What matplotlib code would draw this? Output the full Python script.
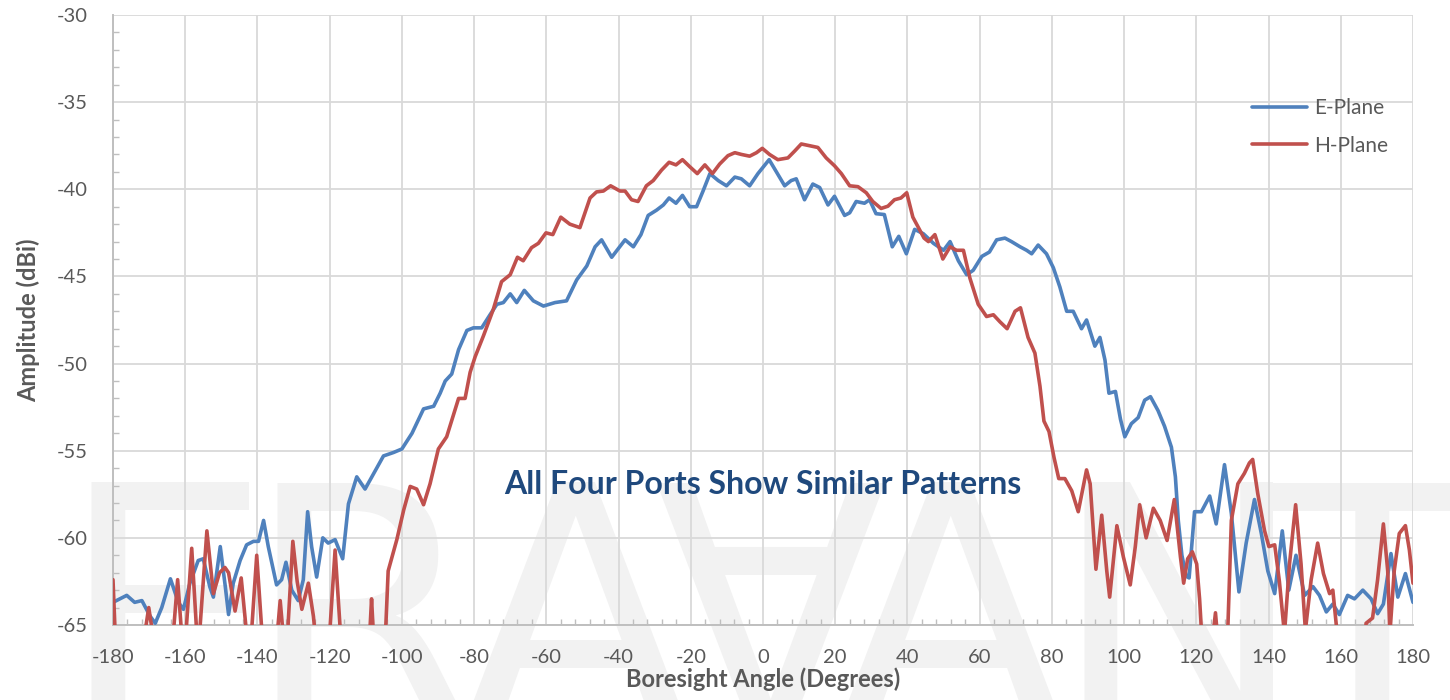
"""Radiation pattern plot: E-plane vs H-plane amplitude against boresight angle."""

import matplotlib

matplotlib.use("Agg")
import matplotlib.pyplot as plt
from matplotlib.ticker import MultipleLocator

plt.rcParams["axes.unicode_minus"] = False

# digitised pattern cuts (angle in degrees, amplitude in dBi)
E_ANGLE = [
    -180, -176.2, -174, -172, -169.7, -168.3, -166.5, -164.1, -161.9, -160.5,
    -158.7, -156.4, -155, -153.2, -152.2, -150.3, -148.9, -148, -146.7, -144.8,
    -143, -141.1, -139.7, -138.3, -137, -134.7, -133.3, -132.1, -130.5, -128.7,
    -127.3, -126.1, -125, -123.6, -121.9, -120.4, -118.5, -116.4, -114.8, -112.5,
    -110.2, -107.8, -105.1, -102.3, -100, -97.2, -94, -91.2, -89.4, -88,
    -86.2, -84.3, -82, -80.2, -77.9, -75.6, -73.7, -71.9, -70, -68.2,
    -66.1, -63.6, -60.8, -57.6, -54.4, -51.6, -48.8, -46.5, -44.7, -41.9,
    -38.2, -35.9, -33.8, -31.8, -29.5, -27.6, -26, -24.1, -22.3, -20.3,
    -18.4, -16.6, -14.7, -12.4, -10.1, -7.8, -6, -3.7, -1.4, 1.7,
    3.7, 6, 7.8, 9.2, 11.5, 13.8, 15.7, 18, 19.8, 22.6,
    24, 25.8, 28.1, 29.5, 31.3, 33.6, 35.8, 37.6, 39.7, 42,
    44.4, 47.2, 50, 51.8, 54.1, 56.4, 58.2, 60.6, 62.7, 64.7,
    67, 68.8, 71.2, 73, 74.4, 76.2, 78.5, 80.4, 82.2, 84.1,
    85.9, 88.2, 89.6, 91.9, 93.3, 94.7, 95.8, 97.6, 99, 100.2,
    102, 103.9, 105.7, 107.3, 109.4, 111.2, 113.1, 114.2, 115, 116,
    117.2, 118, 119.5, 121.4, 123.7, 125.5, 127.8, 129.7, 131.8, 133.8,
    136.1, 138, 139.8, 141.7, 143.8, 145.6, 147.6, 150, 152.3, 154.1,
    156, 157.8, 159.6, 161.9, 163.8, 166.1, 168.4, 170.2, 171.8, 173.9,
    175.8, 177.9, 180,
]
E_AMP = [
    -63.7, -63.3, -63.7, -63.6, -64.5, -64.9, -64.0, -62.35, -63.7, -64.1,
    -62.6, -61.3, -61.2, -62.8, -63.4, -60.5, -62.8, -64.4, -62.6, -61.3,
    -60.4, -60.2, -60.2, -59.0, -60.5, -62.7, -62.4, -61.4, -63.0, -63.6,
    -62.4, -58.5, -60.5, -62.25, -60.0, -60.3, -60.1, -61.2, -58.05, -56.5,
    -57.2, -56.3, -55.3, -55.1, -54.9, -54.0, -52.6, -52.45, -51.7, -51.0,
    -50.6, -49.2, -48.1, -47.95, -47.95, -47.2, -46.6, -46.5, -46.0, -46.5,
    -45.8, -46.4, -46.7, -46.5, -46.4, -45.2, -44.4, -43.3, -42.9, -43.9,
    -42.9, -43.3, -42.6, -41.5, -41.2, -40.9, -40.5, -40.8, -40.35, -41.0,
    -41.0, -40.1, -39.1, -39.5, -39.8, -39.3, -39.4, -39.8, -39.1, -38.3,
    -39.0, -39.8, -39.5, -39.4, -40.6, -39.7, -39.9, -40.9, -40.4, -41.5,
    -41.35, -40.7, -40.8, -40.6, -41.4, -41.45, -43.3, -42.7, -43.7, -42.3,
    -42.55, -43.1, -43.5, -43.0, -44.1, -44.9, -44.65, -43.85, -43.6, -42.9,
    -42.8, -43.0, -43.3, -43.5, -43.7, -43.2, -43.7, -44.5, -45.6, -47.0,
    -47.0, -48.0, -47.5, -49.0, -48.5, -49.8, -51.7, -51.6, -53.2, -54.2,
    -53.45, -53.1, -52.1, -51.9, -52.7, -53.6, -54.8, -56.5, -59.0, -61.0,
    -62.2, -62.3, -58.5, -58.5, -57.6, -59.2, -55.8, -58.6, -63.1, -60.3,
    -57.8, -59.75, -61.9, -63.2, -59.6, -63.0, -61.0, -63.3, -62.8, -63.3,
    -64.25, -63.8, -64.4, -63.3, -63.5, -63.0, -63.5, -64.35, -63.8, -60.9,
    -63.4, -62.05, -63.7,
]

H_ANGLE = [
    -180, -179.3, -178, -172, -171.2, -170.1, -169, -168, -164, -163.3,
    -162.1, -161, -160, -159.8, -158.2, -156.8, -156.2, -154, -152.2, -150.5,
    -149, -148, -146.2, -144.5, -143, -142, -141.6, -140.2, -138.8, -137,
    -134.5, -133.7, -132.9, -131.6, -130.2, -129, -127.7, -125.9, -124.5, -123.8,
    -121, -120, -118.5, -117, -116, -110, -108.9, -108.4, -107.9, -107,
    -105.2, -104.5, -103.8, -101.4, -99.5, -97.7, -95.9, -94, -92.2, -89.9,
    -87.6, -84.3, -82.5, -81.1, -79.7, -77.4, -74.7, -72.4, -70, -68,
    -66.4, -64.1, -62.2, -60.1, -58.2, -56, -53.5, -50.7, -47.9, -46.1,
    -44.2, -42.2, -39.6, -38.2, -36.4, -34.6, -32.3, -30.4, -28.1, -26,
    -24.1, -22.3, -20.3, -18.2, -16.1, -14, -12, -9.7, -7.8, -6,
    -3.7, -1.8, -0.2, 1.8, 4.1, 6.9, 8.8, 10.6, 12.9, 15.2,
    17.5, 19.8, 21.7, 24, 26.3, 28.6, 30.4, 32.7, 34.6, 36.4,
    38.2, 39.8, 41.5, 43.3, 44.6, 45.8, 47.6, 49.8, 51.8, 53.6,
    55.5, 57.3, 59.6, 61.9, 63.8, 65.6, 67.6, 69.8, 71.3, 73.4,
    75.3, 76.7, 77.8, 79.2, 80.6, 81.9, 83.6, 85.5, 87.3, 89.6,
    90.6, 92.2, 93.8, 95.2, 96, 98, 99.8, 101.7, 103.1, 104.3,
    106.1, 108.1, 110, 111.9, 113.9, 115.6, 116.5, 117.6, 118.9, 120.1,
    120.9, 121.6, 122.5, 124.4, 125.3, 126, 127, 128.6, 129.7, 131.5,
    133.3, 134.7, 135.6, 137, 138.9, 140.1, 141.7, 143, 144.4, 145.8,
    147.5, 149, 150.2, 151.8, 153.6, 155.2, 156.9, 157.8, 159, 160,
    166.5, 167, 168.8, 170.2, 171.8, 173, 173.6, 174.8, 176.2, 177.9,
    179, 180,
]
H_AMP = [
    -62.4, -66, -68, -68, -65.5, -64.0, -65.5, -68, -68, -65.5,
    -62.4, -65.5, -68, -65.5, -60.6, -65.5, -66, -59.6, -63.2, -62.0,
    -61.7, -62.0, -64.2, -62.3, -65.5, -68, -65.3, -61.0, -65.3, -68,
    -65.5, -63.6, -65.5, -65.3, -60.2, -62.5, -64.1, -62.6, -64.5, -66,
    -68, -65.5, -60.7, -65.5, -68, -68, -65.5, -63.5, -65.5, -68,
    -68, -65.3, -61.9, -60.1, -58.4, -57.05, -57.2, -58.1, -56.9, -54.9,
    -54.2, -52.0, -52.0, -50.5, -49.6, -48.4, -46.9, -45.3, -44.9, -43.9,
    -44.1, -43.35, -43.1, -42.5, -42.6, -41.6, -42.0, -42.2, -40.5, -40.15,
    -40.1, -39.8, -40.1, -40.1, -40.6, -40.7, -39.8, -39.5, -38.9, -38.45,
    -38.6, -38.3, -38.7, -39.1, -38.6, -39.1, -38.55, -38.07, -37.9, -38.0,
    -38.1, -37.9, -37.65, -38.0, -38.3, -38.2, -37.8, -37.4, -37.5, -37.6,
    -38.2, -38.65, -39.1, -39.8, -39.85, -40.2, -40.7, -41.1, -40.97, -40.6,
    -40.5, -40.2, -41.6, -42.3, -42.8, -43.0, -42.6, -44.0, -43.3, -43.5,
    -43.5, -45.1, -46.6, -47.3, -47.2, -47.6, -48.0, -47.0, -46.8, -48.5,
    -49.4, -51.3, -53.3, -53.9, -55.4, -56.6, -56.6, -57.3, -58.5, -56.1,
    -56.9, -61.8, -58.7, -61.9, -63.4, -59.3, -61.1, -62.7, -60.5, -58.1,
    -60.0, -58.3, -59.0, -60.15, -57.8, -61.1, -62.6, -61.2, -60.8, -61.5,
    -63.5, -66, -68, -66, -64.3, -66, -68, -66, -59.0, -56.9,
    -56.3, -55.7, -55.5, -57.45, -59.6, -60.5, -60.4, -62.5, -65.5, -61.5,
    -58.1, -61.5, -65.3, -62.4, -60.3, -62.05, -63.2, -63.0, -65.5, -68,
    -68, -64.9, -64.6, -62.4, -59.2, -61.9, -65.5, -61.9, -59.75, -59.3,
    -60.7, -62.6,
]

WATERMARK = ["E", "R", "A", "\u2200", "A", "N", "T"]
WATERMARK_X = [165, 362, 575, 770, 950, 1178, 1372]  # letter centres, px

W, H = 1450, 700
GREY_TEXT = "#595959"
FONT = ["Lato", "DejaVu Sans"]

fig = plt.figure(figsize=(W / 100, H / 100), dpi=100)
fig.patch.set_facecolor("white")

# faint company watermark behind the plot
for letter, xc in zip(WATERMARK, WATERMARK_X):
    fig.text(xc / W, (H - 732) / H, letter, fontsize=246, color="#f2f2f2",
             ha="center", va="baseline", family="DejaVu Sans", zorder=-5)

ax = fig.add_axes([113 / W, (H - 625) / H, 1300 / W, 610 / H])
ax.set_facecolor("none")

ax.plot(E_ANGLE, E_AMP, color="#4f81bd", lw=2.6, label="E-Plane",
        solid_joinstyle="round", solid_capstyle="round", zorder=3)
ax.plot(H_ANGLE, H_AMP, color="#c0504d", lw=2.6, label="H-Plane",
        solid_joinstyle="round", solid_capstyle="round", zorder=4)

ax.set_xlim(-180, 180)
ax.set_ylim(-65, -30)
ax.xaxis.set_major_locator(MultipleLocator(20))
ax.xaxis.set_minor_locator(MultipleLocator(4))
ax.yaxis.set_major_locator(MultipleLocator(5))
ax.yaxis.set_minor_locator(MultipleLocator(1))
ax.grid(True, which="major", color="#d9d9d9", lw=1.3, zorder=1)
ax.set_axisbelow(True)

for side in ("top", "right"):
    ax.spines[side].set_visible(False)
for side in ("left", "bottom"):
    ax.spines[side].set_color("#bfbfbf")
    ax.spines[side].set_linewidth(1.4)

ax.tick_params(which="major", length=0, labelsize=14.5, labelcolor=GREY_TEXT)
ax.tick_params(axis="x", which="major", pad=17)
ax.tick_params(axis="y", which="major", pad=18)
ax.tick_params(which="minor", direction="in", length=4, width=1, color="#bfbfbf")
for lbl in ax.get_xticklabels() + ax.get_yticklabels():
    lbl.set_family(FONT)

ax.set_xlabel("Boresight Angle (Degrees)", fontsize=17, fontweight="bold",
              color=GREY_TEXT, family=FONT, labelpad=1)
ax.set_ylabel("Amplitude (dBi)", fontsize=17, fontweight="bold",
              color=GREY_TEXT, family=FONT, labelpad=12)

ax.text(0.5, 0.23, "All Four Ports Show Similar Patterns", transform=ax.transAxes,
        ha="center", va="center", fontsize=23, fontweight="bold",
        color="#1f497d", family=FONT, zorder=5)

leg = ax.legend(loc="upper left", bbox_to_anchor=(0.862, 0.895), frameon=False,
                handlelength=2.6, handletextpad=0.35, labelspacing=0.85,
                prop={"family": FONT, "size": 15})
for txt in leg.get_texts():
    txt.set_color(GREY_TEXT)

fig.savefig("out.png", dpi=100)
